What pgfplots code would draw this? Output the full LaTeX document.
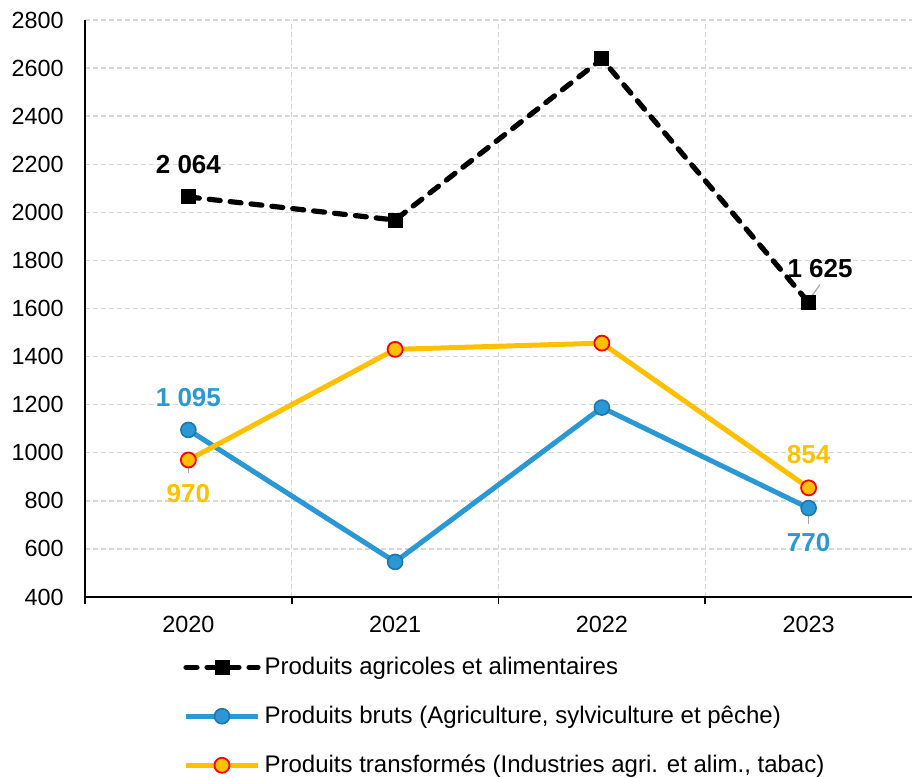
\documentclass[border=0pt]{standalone}
\usepackage{pgfplots}
\pgfplotsset{compat=1.18}
\usepackage{fontspec}
\setmainfont{Liberation Sans}
\definecolor{cblue}{RGB}{41,152,212}
\definecolor{cblueedge}{RGB}{30,118,170}
\definecolor{cyel}{RGB}{255,192,0}
\definecolor{cgrid}{RGB}{215,215,215}

\begin{document}
\fontsize{11.7}{14}\selectfont
\begin{tikzpicture}
\begin{axis}[
  scale only axis, width=413.5pt, height=288.5pt,
  xmin=-0.5, xmax=3.5, ymin=400, ymax=2800,
  ytick={400,600,...,2800},
  xtick={0,1,2,3}, xticklabels={2020,2021,2022,2023},
  minor xtick={-0.5,0.5,1.5,2.5},
  major tick length=0pt, minor tick length=3.5pt,
  tick align=outside,
  tick style={black, line width=0.8pt},
  axis x line*=bottom, axis y line*=left,
  axis line style={line width=1pt, -},
  ymajorgrids, xminorgrids,
  grid style={cgrid, line width=0.7pt, dash pattern=on 2.5pt off 1.5pt},
  minor grid style={cgrid, line width=0.7pt, dash pattern=on 2.5pt off 1.5pt},
  /pgf/number format/assume math mode=true,
  yticklabel style={/pgf/number format/1000 sep={}, xshift=-6.6pt},
  xticklabel style={yshift=-5.5pt},
  tick label style={font=\fontsize{11.7}{14}\selectfont},
  legend style={at={(0.1185,-0.096)}, anchor=north west, draw=none,
    row sep=10pt, font=\fontsize{12}{14}\selectfont, inner sep=0pt},
  legend cell align=left,
  legend image code/.code={\draw[mark repeat=2,mark phase=2]
    plot coordinates {(0pt,0pt) (18pt,0pt) (36pt,0pt)};},
]
\addplot[black, line width=2.6pt, dash pattern=on 5.5pt off 5pt, line cap=round,
  mark=square*, mark size=3.5pt, mark options={solid, line width=0.5pt}]
  coordinates {(0,2064) (1,1968) (2,2638) (3,1625)};
\addlegendentry{Produits agricoles et alimentaires}
\addplot[cblue, line width=2.5pt, mark=*, mark size=3.75pt,
  mark options={fill=cblue, draw=cblueedge, line width=0.8pt}]
  coordinates {(0,1095) (1,546) (2,1188) (3,770)};
\addlegendentry{Produits bruts (Agriculture, sylviculture et pêche)}
\addplot[cyel, line width=2.5pt, mark=*, mark size=3.75pt,
  mark options={fill=cyel, draw=red, line width=0.9pt}]
  coordinates {(0,970) (1,1430) (2,1456) (3,854)};
\addlegendentry{Produits transformés (Industries agri. et alim., tabac)}

% leader lines
\draw[gray!70, line width=0.6pt] (axis cs:0,960) -- (axis cs:0,915);
\draw[gray!70, line width=0.6pt] (axis cs:3,760) -- (axis cs:3,705);
\draw[gray!70, line width=0.6pt] (axis cs:3.01,1645) -- (axis cs:3.055,1700);

% data labels
\pgfplotsset{lbl/.style={draw=none, mark=none, forget plot, nodes near coords,
  point meta=explicit symbolic,
  every node near coord/.append style={anchor=base, inner sep=0pt,
    font=\bfseries\fontsize{13}{15}\selectfont, #1}}}
\addplot[lbl={black, yshift=11.5pt}] coordinates {(0,2064)[2 064]};
\addplot[lbl={black, yshift=12.5pt, xshift=5.7pt}] coordinates {(3,1625)[1 625]};
\addplot[lbl={cblue, yshift=11.5pt}] coordinates {(0,1095)[1 095]};
\addplot[lbl={cblue, yshift=-21.5pt}] coordinates {(3,770)[770]};
\addplot[lbl={cyel, yshift=-21.5pt}] coordinates {(0,970)[970]};
\addplot[lbl={cyel, yshift=12pt}] coordinates {(3,854)[854]};
\end{axis}
\pgfresetboundingbox
\path ([shift={(-42.5pt,-90pt)}]current axis.south west)
  rectangle ([shift={(0pt,10pt)}]current axis.north east);
\end{tikzpicture}
\end{document}
